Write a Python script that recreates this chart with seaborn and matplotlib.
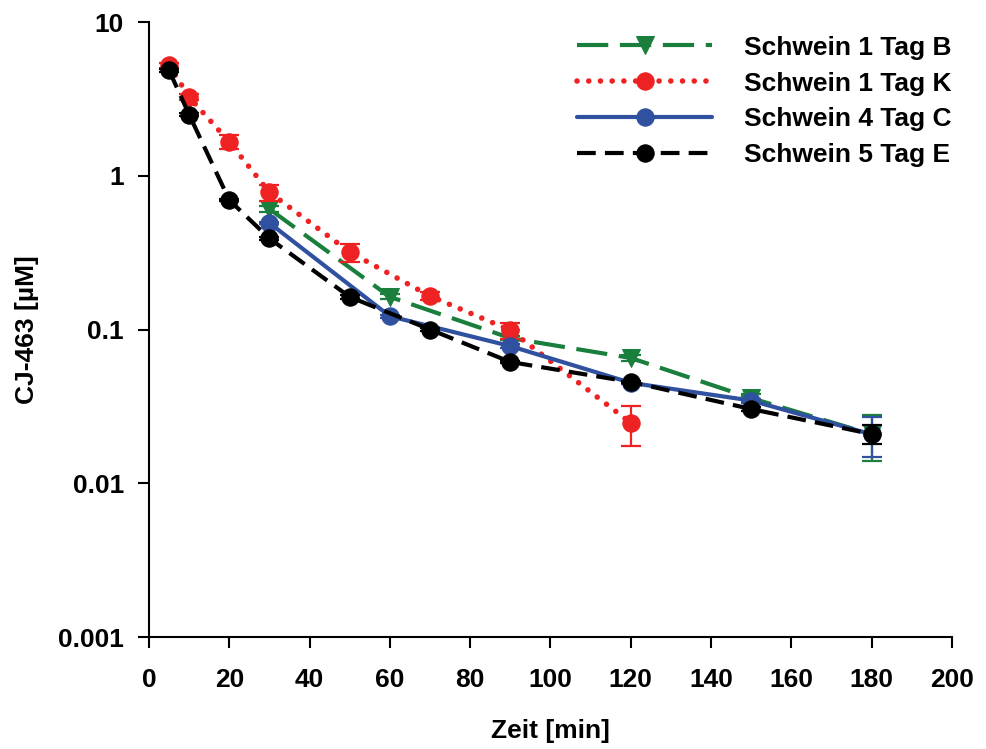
import numpy as np
import pandas as pd
import matplotlib
matplotlib.use('Agg')
import matplotlib.pyplot as plt
import seaborn as sns
from matplotlib.ticker import FixedLocator, FuncFormatter

# data
zeit_bk = [30, 60, 90, 120, 150, 180]
conc_b = [0.608, 0.163, 0.088, 0.0653, 0.0358, 0.0208]
err_b = [0.03, 0.006, 0.003, 0.003, 0.002, 0.0069]

zeit_k = [5, 10, 20, 30, 50, 70, 90, 120]
conc_k = [5.25, 3.25, 1.66, 0.78, 0.319, 0.165, 0.099, 0.0247]
err_k = [0.2, 0.15, 0.17, 0.09, 0.043, 0.01, 0.012, 0.0072]

zeit_c = [30, 60, 90, 120, 150, 180]
conc_c = [0.493, 0.122, 0.078, 0.045, 0.0345, 0.0208]
err_c = [0.01, 0.003, 0.002, 0.001, 0.001, 0.006]

zeit_e = [5, 10, 20, 30, 50, 70, 90, 120, 150, 180]
conc_e = [4.85, 2.5, 0.695, 0.391, 0.163, 0.1, 0.0615, 0.0456, 0.0304, 0.0209]
err_e = [0.1, 0.05, 0.01, 0.01, 0.004, 0.002, 0.001, 0.001, 0.001, 0.003]

# name, x, y, err, colour, marker, dashes, capstyle, linewidth
series = [
    ("Schwein 1 Tag B", zeit_bk, conc_b, err_b, "#1a7f3c", "v", (7.5, 2.8), 'butt', 3.0),
    ("Schwein 1 Tag K", zeit_k, conc_k, err_k, "#ee2222", "o", (0.01, 2.1), 'round', 4.0),
    ("Schwein 4 Tag C", zeit_c, conc_c, err_c, "#3050a0", "o", None, 'butt', 3.0),
    ("Schwein 5 Tag E", zeit_e, conc_e, err_e, "#000000", "o", (4.5, 2.2), 'butt', 3.0),
]

sns.set_style('ticks')
plt.rcParams['font.family'] = ['Liberation Sans', 'DejaVu Sans']
plt.rcParams['font.weight'] = 'bold'
plt.rcParams['text.color'] = 'black'
plt.rcParams['axes.labelcolor'] = 'black'

fig = plt.figure(figsize=(9.86, 7.49), dpi=100)
ax = fig.add_axes([0.1511, 0.1495, 0.8144, 0.8211])

for name, x, y, err, col, mk, dash, cap, lw in series:
    df = pd.DataFrame({'Zeit': x, 'Konz': y})
    sns.lineplot(data=df, x='Zeit', y='Konz', ax=ax, color=col, marker=mk,
                 markersize=12.5, markeredgecolor=col, linewidth=lw, label=name)
    line = ax.lines[-1]
    if dash is not None:
        line.set_dashes(dash)
        line.set_dash_capstyle(cap)
    ax.errorbar(x, y, yerr=err, fmt='none', ecolor=col, elinewidth=1.6,
                capsize=7, capthick=1.6)

ax.set_yscale('log')
ax.set_xlim(0, 200)
ax.set_ylim(0.001, 10)
ax.xaxis.set_major_locator(FixedLocator(np.arange(0, 201, 20)))
ax.yaxis.set_major_locator(FixedLocator([0.001, 0.01, 0.1, 1, 10]))
ax.yaxis.set_minor_locator(FixedLocator([]))
ax.yaxis.set_major_formatter(FuncFormatter(lambda v, p: f'{v:g}'))
ax.tick_params(axis='both', labelsize=19, length=8, width=1.5, direction='out',
               colors='black')
ax.tick_params(axis='x', pad=14)
ax.tick_params(axis='y', pad=10)
for lab in ax.get_xticklabels() + ax.get_yticklabels():
    lab.set_fontweight('bold')
sns.despine(ax=ax)
for s in ['left', 'bottom']:
    ax.spines[s].set_linewidth(1.5)
    ax.spines[s].set_color('black')

ax.set_xlabel('Zeit [min]', fontsize=19, fontweight='bold', labelpad=20)
ax.set_ylabel('CJ-463 [µM]', fontsize=19, fontweight='bold', labelpad=14)

ax.legend(loc='upper right', bbox_to_anchor=(1.012, 0.995), frameon=False,
          fontsize=19, handlelength=5.1, handletextpad=1.2, labelspacing=0.45,
          borderaxespad=0.0, numpoints=1)

fig.savefig('out.png', dpi=100)
